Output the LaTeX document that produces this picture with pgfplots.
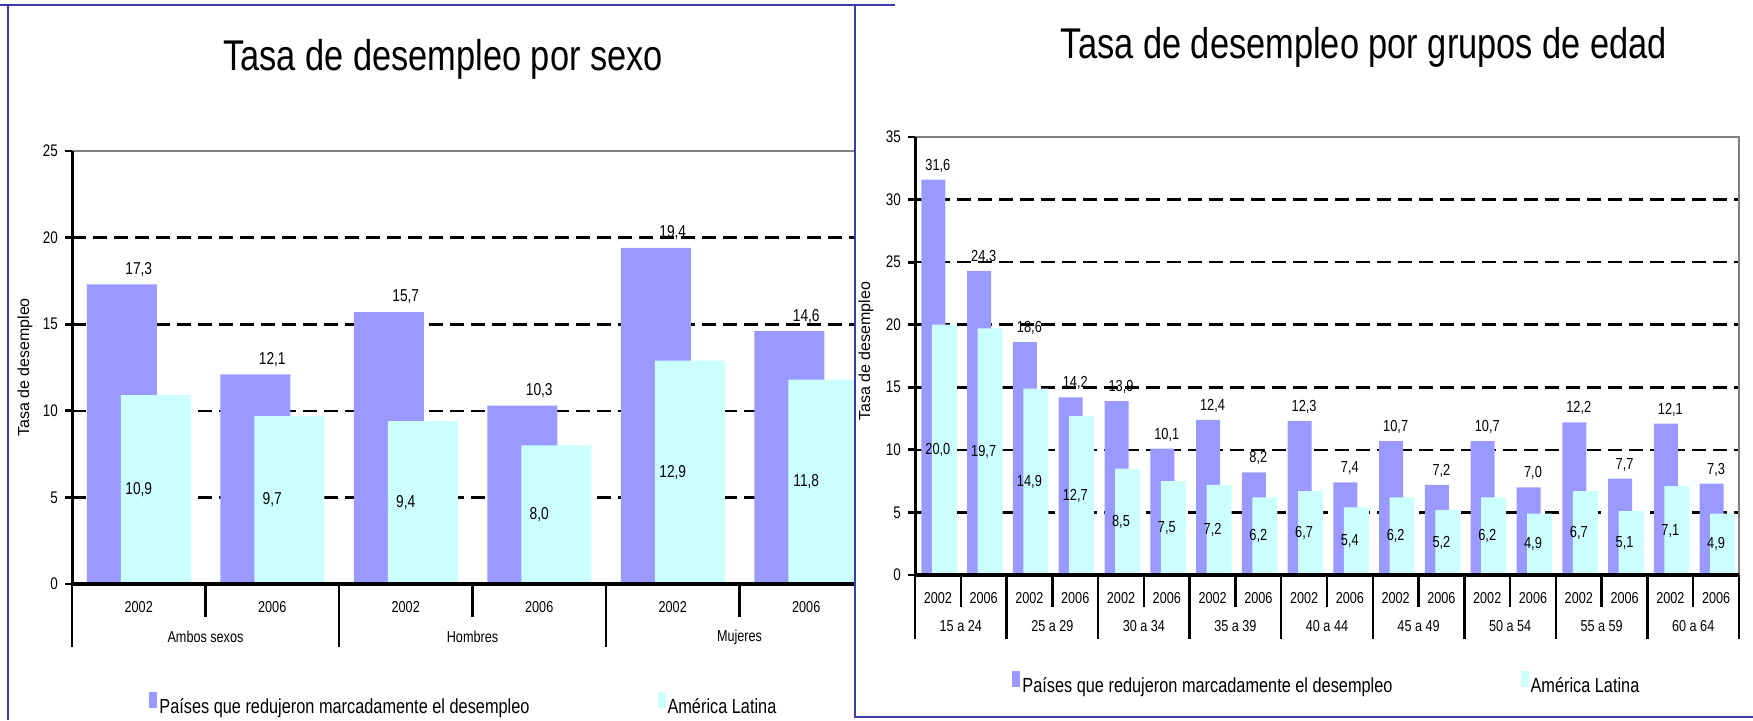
\documentclass[border=0pt]{standalone}
\usepackage{fontspec}
\setmainfont{Liberation Sans}[FakeStretch=0.8]
\newfontfamily\plainfont{Liberation Sans}
\usepackage{pgfplots}
\pgfplotsset{compat=1.18}
\definecolor{purp}{RGB}{153,153,255}
\definecolor{alc}{RGB}{204,255,255}
\definecolor{framecol}{RGB}{60,60,170}

\pgfplotsset{
  panel/.style={
    scale only axis, anchor=south west, clip=false,
    ymin=0, enlarge x limits=false,
    axis line style={draw=gray, line width=0.9pt},
    tick align=outside, ytick pos=left,
    xtick style={draw=none},
    ytick style={black, line width=1.4pt},
    major tick length=3.5pt,
    ymajorgrids, grid style={black, line width=1.3pt, dash pattern=on 7pt off 3.5pt},
    extra y tick style={grid=none},
    /pgf/number format/assume math mode=true,
    yticklabel style={font=\fontsize{8.4}{9}\selectfont},
    xticklabel style={font=\fontsize{7.9}{9}\selectfont, anchor=center},
    ylabel={Tasa de desempleo},
    ylabel style={font=\plainfont\fontsize{8}{9}\selectfont, anchor=center},
    legend columns=2, legend cell align=left,
    legend style={draw=none, fill=none, anchor=west, inner sep=0pt,
      font=\fontsize{10.2}{12}\selectfont,
      nodes={inner xsep=1pt, inner ysep=0pt},
      /tikz/every even column/.append style={column sep=63pt}},
  },
  sw/.style={legend image code/.code={\fill[##1,/tikz/.cd,draw=none] (0pt,-0.3pt) rectangle (4pt,7.6pt);}},
  pl/.style={ybar, fill=purp, draw=none, sw,
    nodes near coords={\pgfmathprintnumber[fixed,fixed zerofill,precision=1,use comma]{\pgfplotspointmeta}},
    every node near coord/.append style={anchor=center, text=black, yshift=#1}},
  cl/.style={ybar, fill=alc, draw=none, sw,
    nodes near coords={\pgfmathprintnumber[fixed,fixed zerofill,precision=1,use comma]{\pgfplotspointmeta}},
    visualization depends on={rawy \as \rawy},
    every node near coord/.append style={anchor=center, text=black, shift={(axis direction cs:0,-\rawy/2)}}},
}

\begin{document}
\begin{tikzpicture}
\useasboundingbox (0,0) rectangle (876.5pt,360pt);

% left panel: by sex
\begin{scope}
\clip (0,0) rectangle (427.5pt,360pt);
\begin{axis}[panel, at={(36pt,68pt)}, width=400.5pt, height=216.5pt,
  xmin=-0.5, xmax=5.5, ymax=25,
  ytick={5,10,15,20}, extra y ticks={0,25},
  xtick={0,...,5}, xticklabels={2002,2006,2002,2006,2002,2006},
  xticklabel style={yshift=-8pt},
  ylabel style={at={(axis description cs:-0.0587,0.5)}},
  legend style={at={(axis description cs:0.0961,-0.277)}},
  every node near coord/.append style={font=\fontsize{8.6}{9}\selectfont},
]
\addplot[pl=7.5pt, bar width=35pt, bar shift=-8.5pt] coordinates {(0,17.3) (1,12.1) (2,15.7) (3,10.3) (4,19.4) (5,14.6)};
\addlegendentry{Países que redujeron marcadamente el desempleo}
\addplot[cl, bar width=35pt, bar shift=8.5pt] coordinates {(0,10.9) (1,9.7) (2,9.4) (3,8.0) (4,12.9) (5,11.8)};
\addlegendentry{América Latina}
\draw[black, line width=1.5pt] (rel axis cs:0,0) -- (rel axis cs:0,1);
\draw[black, line width=1.7pt] (rel axis cs:0,0) -- (rel axis cs:1,0);
\pgfplotsinvokeforeach{0.5,2.5,4.5}{\draw[black, line width=1.3pt] (axis cs:#1,0) -- ++(0pt,-16.5pt);}
\pgfplotsinvokeforeach{-0.5,1.5,3.5,5.5}{\draw[black, line width=1.3pt] (axis cs:#1,0) -- ++(0pt,-31.5pt);}
\node[font=\fontsize{7.9}{9}\selectfont, yshift=-26.5pt] at (axis cs:0.5,0) {Ambos sexos};
\node[font=\fontsize{7.9}{9}\selectfont, yshift=-26.5pt] at (axis cs:2.5,0) {Hombres};
\node[font=\fontsize{7.9}{9}\selectfont, yshift=-26.5pt] at (axis cs:4.5,0) {Mujeres};
\end{axis}
\end{scope}

% right panel: by age group
\begin{axis}[panel, at={(457.5pt,72.5pt)}, width=412pt, height=219pt,
  xmin=-0.5, xmax=17.5, ymax=35,
  ytick={5,10,...,30}, extra y ticks={0,35},
  xtick={0,...,17},
  xticklabels={2002,2006,2002,2006,2002,2006,2002,2006,2002,2006,2002,2006,2002,2006,2002,2006,2002,2006},
  xticklabel style={yshift=-8pt},
  ylabel style={at={(axis description cs:-0.0595,0.511)}},
  legend style={at={(axis description cs:0.1177,-0.2466)}},
  every node near coord/.append style={font=\fontsize{8}{9}\selectfont},
]
\addplot[pl=7pt, bar width=12pt, bar shift=-2.25pt] coordinates {
  (0,31.6) (1,24.3) (2,18.6) (3,14.2) (4,13.9) (5,10.1) (6,12.4) (7,8.2) (8,12.3)
  (9,7.4) (10,10.7) (11,7.2) (12,10.7) (13,7.0) (14,12.2) (15,7.7) (16,12.1) (17,7.3)};
\addlegendentry{Países que redujeron marcadamente el desempleo}
\addplot[cl, bar width=12.5pt, bar shift=3.25pt] coordinates {
  (0,20.0) (1,19.7) (2,14.9) (3,12.7) (4,8.5) (5,7.5) (6,7.2) (7,6.2) (8,6.7)
  (9,5.4) (10,6.2) (11,5.2) (12,6.2) (13,4.9) (14,6.7) (15,5.1) (16,7.1) (17,4.9)};
\addlegendentry{América Latina}
\draw[black, line width=1.5pt] (rel axis cs:0,0) -- (rel axis cs:0,1);
\draw[black, line width=1.7pt] (rel axis cs:0,0) -- (rel axis cs:1,0);
\pgfplotsinvokeforeach{0.5,2.5,4.5,6.5,8.5,10.5,12.5,14.5,16.5}{\draw[black, line width=1.2pt] (axis cs:#1,0) -- ++(0pt,-16pt);}
\pgfplotsinvokeforeach{-0.5,1.5,3.5,5.5,7.5,9.5,11.5,13.5,15.5,17.5}{\draw[black, line width=1.2pt] (axis cs:#1,0) -- ++(0pt,-32pt);}
\node[font=\fontsize{7.9}{9}\selectfont, yshift=-25.5pt] at (axis cs:0.5,0) {15 a 24};
\node[font=\fontsize{7.9}{9}\selectfont, yshift=-25.5pt] at (axis cs:2.5,0) {25 a 29};
\node[font=\fontsize{7.9}{9}\selectfont, yshift=-25.5pt] at (axis cs:4.5,0) {30 a 34};
\node[font=\fontsize{7.9}{9}\selectfont, yshift=-25.5pt] at (axis cs:6.5,0) {35 a 39};
\node[font=\fontsize{7.9}{9}\selectfont, yshift=-25.5pt] at (axis cs:8.5,0) {40 a 44};
\node[font=\fontsize{7.9}{9}\selectfont, yshift=-25.5pt] at (axis cs:10.5,0) {45 a 49};
\node[font=\fontsize{7.9}{9}\selectfont, yshift=-25.5pt] at (axis cs:12.5,0) {50 a 54};
\node[font=\fontsize{7.9}{9}\selectfont, yshift=-25.5pt] at (axis cs:14.5,0) {55 a 59};
\node[font=\fontsize{7.9}{9}\selectfont, yshift=-25.5pt] at (axis cs:16.5,0) {60 a 64};
\end{axis}

% panel frames and titles
\draw[framecol, line width=1pt] (0,357.5pt) -- (447.5pt,357.5pt);
\draw[framecol, line width=1pt] (4pt,357.5pt) -- (4pt,0);
\draw[framecol, line width=1pt] (427.5pt,357.5pt) -- (427.5pt,1.5pt) -- (876.5pt,1.5pt);
\node[font=\fontsize{21.5}{24}\selectfont, anchor=base] at (221.5pt,325pt) {Tasa de desempleo por sexo};
\node[font=\fontsize{21.5}{24}\selectfont, anchor=base] at (682pt,331pt) {Tasa de desempleo por grupos de edad};
\end{tikzpicture}
\end{document}
